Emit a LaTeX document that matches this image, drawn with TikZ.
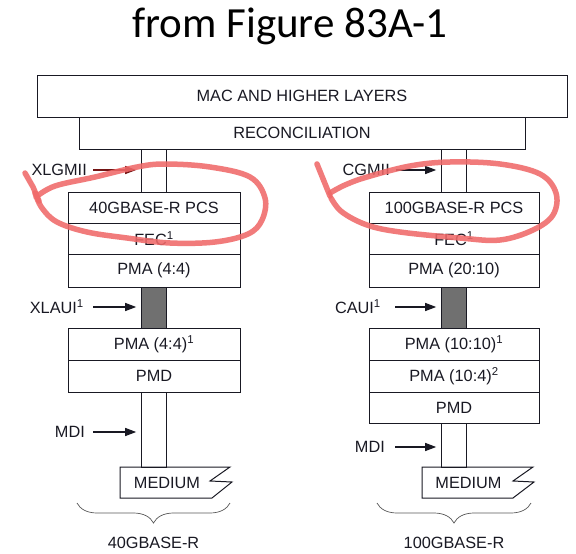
\documentclass[tikz,border=0pt]{standalone}
\usepackage{fontspec}
\setmainfont{Liberation Sans}
\newfontfamily\titlefont{Carlito}
\usetikzlibrary{arrows.meta,decorations.pathreplacing}
\definecolor{annot}{RGB}{240,105,105}
\definecolor{ink}{RGB}{25,25,35}
\definecolor{chgray}{RGB}{112,112,112}
\definecolor{arrred}{RGB}{115,20,20}
\begin{document}
\begin{tikzpicture}[x=1pt,y=-1pt,
  box/.style={draw=ink,line width=1pt,rectangle,inner sep=0pt,
    font=\fontsize{16.3}{19}\selectfont,text=ink},
  lrow/.style={box,minimum width=172pt},
  rrow/.style={box,minimum width=170pt},
  chan/.style={draw=ink,line width=1pt,rectangle,inner sep=0pt,minimum width=25pt},
  gchan/.style={chan,fill=chgray},
  lbl/.style={font=\fontsize{16.3}{19}\selectfont,text=ink,inner sep=0pt},
  arr/.style={draw=ink,line width=1.2pt,-{Triangle[length=11pt,width=8pt]}},
  mline/.style={draw=ink,line width=1pt,line join=miter},
  bracestyle/.style={draw=black!65,line width=0.7pt,decorate,
    decoration={brace,mirror,amplitude=20pt}},
  annotline/.style={draw=annot,line width=5.5pt,line cap=round,line join=round,opacity=0.88}
]
\useasboundingbox (0,0) rectangle (576,554);
\fill[white] (0,0) rectangle (576,554);

% title
\node[font=\titlefont\fontsize{43}{50}\selectfont,anchor=base,inner sep=0pt] (title) at (290,37) {from Figure 83A-1};

% channels (drawn first)
\node[chan,minimum height=43pt] (chLa) at (154.2,170.5) {};
\node[gchan,minimum height=41pt] (gLa) at (154.2,307.5) {};
\node[chan,minimum height=75pt] (chLb) at (154.2,429.5) {};
\node[chan,minimum height=43pt] (chRa) at (454.2,170.5) {};
\node[gchan,minimum height=41pt] (gRa) at (454.2,307.5) {};
\node[chan,minimum height=44pt] (chRb) at (454.2,445) {};

% top boxes
\node[box,minimum width=530pt,minimum height=42pt] (mac) at (302,96) {MAC AND HIGHER LAYERS};
\node[box,minimum width=446pt,minimum height=32pt] (recon) at (302,133) {RECONCILIATION};

% left stack
\node[lrow,minimum height=31pt] (pcsL) at (154,207.5) {40GBASE-R PCS};
\node[lrow,minimum height=31pt] (fecL) at (154,238.5) {FEC\textsuperscript{1}};
\node[lrow,minimum height=33pt] (pmaL) at (154,270.5) {PMA (4:4)};
\node[lrow,minimum height=32pt] (pmaL2) at (154,344) {PMA (4:4)\textsuperscript{1}};
\node[lrow,minimum height=32pt] (pmdL) at (154,376) {PMD};

% right stack
\node[rrow,minimum height=31pt] (pcsR) at (454,207.5) {100GBASE-R PCS};
\node[rrow,minimum height=31pt] (fecR) at (454,238.5) {FEC\textsuperscript{1}};
\node[rrow,minimum height=33pt] (pmaR) at (454,270.5) {PMA (20:10)};
\node[rrow,minimum height=32pt] (pmaR2) at (454,344) {PMA (10:10)\textsuperscript{1}};
\node[rrow,minimum height=32pt] (pmaR3) at (454,376) {PMA (10:4)\textsuperscript{2}};
\node[rrow,minimum height=31pt] (pmdR) at (454,407.5) {PMD};

% interface labels and arrows
\node[lbl,anchor=east] (xlgmii) at (87,170) {XLGMII};
\draw[arr,draw=arrred,-{Triangle[length=11pt,width=8pt,fill=arrred]}] ([xshift=6pt]xlgmii.east) -- ([xshift=-5pt]xlgmii.east -| chLa.west);
\node[lbl,anchor=east] (xlaui) at (84,307) {XLAUI\textsuperscript{1}};
\draw[arr] ([xshift=9pt]xlaui.east) -- ([xshift=-5pt]xlaui.east -| gLa.west);
\node[lbl,anchor=east] (mdiL) at (85,432) {MDI};
\draw[arr] ([xshift=8pt]mdiL.east) -- ([xshift=-5pt]mdiL.east -| chLb.west);

\node[lbl,anchor=east] (cgmii) at (390,170) {CGMII};
\draw[arr] ([xshift=6pt]cgmii.east) -- ([xshift=-5pt]cgmii.east -| chRa.west);
\node[lbl,anchor=east] (caui) at (381,307) {CAUI\textsuperscript{1}};
\draw[arr] ([xshift=14pt]caui.east) -- ([xshift=-5pt]caui.east -| gRa.west);
\node[lbl,anchor=east] (mdiR) at (385,447) {MDI};
\draw[arr] ([xshift=10pt]mdiR.east) -- ([xshift=-5pt]mdiR.east -| chRb.west);

% media
\draw[mline] (120,467) -- (230,467) -- (210,481) -- (232,482) -- (212,498) -- (120,498) -- cycle;
\node[lbl] (medL) at (167,483) {MEDIUM};
\draw[mline] (422,467) -- (533,467) -- (513,481) -- (534,482) -- (513,498) -- (422,498) -- cycle;
\node[lbl] (medR) at (468.5,483) {MEDIUM};

% braces
\coordinate (bL1) at (77,503);
\coordinate (bL2) at (230,503);
\coordinate (bR1) at (377,503);
\coordinate (bR2) at (531,503);
\draw[bracestyle] (bL1) -- (bL2);
\draw[bracestyle] (bR1) -- (bR2);
\node[lbl] (nameL) at (153.5,543) {40GBASE-R};
\node[lbl] (nameR) at (454,543) {100GBASE-R};

% red hand annotations
\draw[annotline] (25,173) -- (33,187) -- (39,201);
\draw[annotline] plot[smooth,tension=0.6] coordinates {(36,197) (55,186) (95,177) (137,167) (165,164) (210,167) (250,177) (265,198) (262,220) (248,234) (215,242) (170,243) (127,238) (87,232) (57,222) (42,208) (35,193)};
\draw[annotline] (317,164) -- (330,196);
\draw[annotline] plot[smooth,tension=0.6] coordinates {(330,193) (345,185) (367,177) (410,166) (450,162) (500,164) (540,174) (556,193) (553,215) (533,230) (500,240) (460,238) (400,232) (367,225) (342,212) (331,198)};
\end{tikzpicture}
\end{document}
